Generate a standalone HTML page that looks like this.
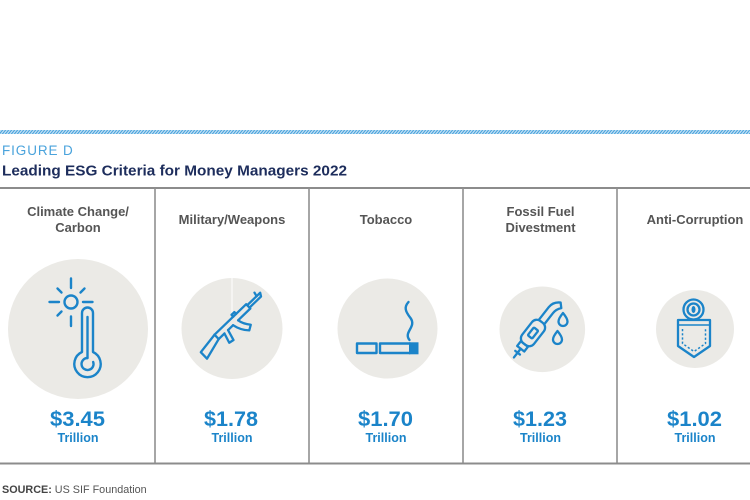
<!DOCTYPE html>
<html>
<head>
<meta charset="utf-8">
<style>
  html,body{margin:0;padding:0;background:#fff;}
  svg{display:block;}
  text{font-family:"Liberation Sans",Arial,sans-serif;}
</style>
</head>
<body>
<svg width="750" height="500" viewBox="0 0 750 500" xmlns="http://www.w3.org/2000/svg">
  <defs>
    <pattern id="hatch" width="3" height="5" patternUnits="userSpaceOnUse" patternTransform="skewX(-40)">
      <rect x="0" y="0" width="3" height="5" fill="#cfe6f6"/>
      <rect x="0" y="0" width="1.6" height="5" fill="#4ea6de"/>
    </pattern>
  </defs>
  <rect x="0" y="0" width="750" height="500" fill="#fff"/>

  <!-- hatched band -->
  <rect x="0" y="130" width="750" height="4" fill="url(#hatch)"/>

  <!-- headings -->
  <text x="2" y="155" font-size="13.5" fill="#4aa3dc" letter-spacing="0.9">FIGURE D</text>
  <text x="2" y="175.5" font-size="14.5" font-weight="bold" fill="#1d2d5c" textLength="345" lengthAdjust="spacingAndGlyphs">Leading ESG Criteria for Money Managers 2022</text>

  <!-- table lines -->
  <rect x="0" y="187" width="750" height="2" fill="#8c8c8c"/>
  <rect x="0" y="462.5" width="750" height="2" fill="#8c8c8c"/>
  <rect x="154.2" y="188" width="1.6" height="275" fill="#909090"/>
  <rect x="308.2" y="188" width="1.6" height="275" fill="#909090"/>
  <rect x="462.2" y="188" width="1.6" height="275" fill="#909090"/>
  <rect x="616.2" y="188" width="1.6" height="275" fill="#909090"/>

  <!-- header labels -->
  <g font-size="13" font-weight="bold" fill="#555" text-anchor="middle">
    <text x="78" y="216">Climate Change/</text>
    <text x="78" y="232">Carbon</text>
    <text x="232" y="224">Military/Weapons</text>
    <text x="386" y="224">Tobacco</text>
    <text x="540.5" y="216">Fossil Fuel</text>
    <text x="540.5" y="232">Divestment</text>
    <text x="695" y="224">Anti-Corruption</text>
  </g>

  <!-- circles -->
  <g fill="#ebeae6">
    <circle cx="78" cy="329" r="70"/>
    <circle cx="232" cy="328.5" r="50.5"/>
    <circle cx="387.5" cy="328.5" r="50"/>
    <circle cx="542.3" cy="329.3" r="42.8"/>
    <circle cx="695" cy="329" r="39"/>
  </g>
  <line x1="232" y1="278" x2="232" y2="314" stroke="#ffffff" stroke-width="1"/>

  <!-- climate icon -->
  <g stroke="#1b84c9" stroke-width="2.4" fill="none" stroke-linecap="round" stroke-linejoin="round">
    <circle cx="71" cy="302" r="6.5"/>
    <line x1="71" y1="278.5" x2="71" y2="288"/>
    <line x1="71" y1="316.5" x2="71" y2="326"/>
    <line x1="49.5" y1="302" x2="59" y2="302"/>
    <line x1="83" y1="302" x2="92.5" y2="302"/>
    <line x1="57.5" y1="288.5" x2="61.5" y2="292.5"/>
    <line x1="84.5" y1="288.5" x2="80.5" y2="292.5"/>
    <line x1="57.5" y1="315.5" x2="61.5" y2="311.5"/>
    <path d="M82,352 L82,313 A5.5,5.5 0 0 1 93,313 L93,352 A13.2,13.2 0 1 1 82,352 Z"/>
    <line x1="87.5" y1="317" x2="87.5" y2="358"/>
    <path d="M87.5,358 A6,6 0 1 0 93.2,362"/>
  </g>

  <!-- rifle icon -->
  <g transform="translate(231,323) rotate(-44)" stroke="#1b84c9" stroke-width="2.3" fill="none" stroke-linejoin="round" stroke-linecap="round">
    <path d="M-20,-3 L-42,0 L-42,9 L-20,3"/>
    <path d="M-20,-3 L24,-3 L24,3 L7,3 M0,3 L-7,3 M-12,3 L-20,3"/>
    <path d="M-12,3 L-15,13 L-10,14 L-7,3"/>
    <path d="M0,3 Q2,12 8,18 L13,15 Q8,9 7,3"/>
    <path d="M24,-1.5 L42,-1.5 M24,1.8 L40,1.8 L42,-1.5"/>
    <path d="M37,-1.5 L38,-5.5"/>
    <path d="M6,-3 L6,-5.5 L10,-5.5 L10,-3"/>
    <line x1="-20" y1="-3" x2="-20" y2="3"/>
  </g>

  <!-- cigarette icon -->
  <g stroke="#1b84c9" stroke-width="2.4" fill="none" stroke-linejoin="round" stroke-linecap="round">
    <rect x="357" y="343.5" width="19.5" height="9.5"/>
    <path d="M410,343.5 L380,343.5 L380,353 L410,353"/>
    <path d="M409.5,340 C403,332 417,327 410.5,318 C405,311 404,307 408.5,302"/>
  </g>
  <rect x="409" y="342.3" width="9.5" height="12" fill="#1b84c9"/>

  <!-- fuel nozzle icon -->
  <g transform="translate(533,333) rotate(-52)" stroke="#1b84c9" stroke-width="2.3" fill="none" stroke-linejoin="round" stroke-linecap="round">
    <rect x="-14" y="-7.5" width="28" height="15" rx="6"/>
    <rect x="-5" y="-2.8" width="10" height="5.6" rx="1"/>
    <rect x="-20" y="-4.5" width="6" height="9"/>
    <line x1="-20" y1="0" x2="-31" y2="0"/>
    <line x1="-25" y1="-3" x2="-25" y2="3"/>
    <path d="M14,-3.5 L30,-3.5 Q37,-3.5 41,3 L37,7 Q33,3.5 28,3.5 L14,3.5"/>
  </g>
  <g fill="none" stroke="#1b84c9" stroke-width="2.3" stroke-linejoin="round">
    <path d="M563,313 C563,313 567.5,318.5 567.5,321.5 A4.5,4.5 0 0 1 558.5,321.5 C558.5,318.5 563,313 563,313 Z"/>
    <path d="M557.5,331 C557.5,331 562,336.5 562,339.5 A4.5,4.5 0 0 1 553,339.5 C553,336.5 557.5,331 557.5,331 Z"/>
  </g>

  <!-- pocket icon -->
  <g stroke="#1b84c9" stroke-width="2.3" fill="none" stroke-linejoin="round">
    <circle cx="693.5" cy="309.5" r="10"/>
    <circle cx="693.5" cy="309.5" r="6"/>
    <ellipse cx="693.5" cy="309.5" rx="2" ry="3.5" fill="#1b84c9" stroke="none"/>
    <path d="M678,320 L710,320 L710,346 L694,357 L678,346 Z" fill="#ebeae6"/>
    <line x1="678" y1="325" x2="710" y2="325" stroke-width="1.5"/>
    <path d="M682.5,329 L682.5,343.5 L694,351.5 L705.5,343.5 L705.5,329" stroke-width="1.5" stroke-dasharray="2.2 2"/>
  </g>

  <!-- values -->
  <g font-weight="bold" fill="#1b84c9" text-anchor="middle">
    <g font-size="21">
      <text x="77.5" y="426" textLength="55" lengthAdjust="spacingAndGlyphs">$3.45</text>
      <text x="231" y="426" textLength="54" lengthAdjust="spacingAndGlyphs">$1.78</text>
      <text x="385.5" y="426" textLength="55" lengthAdjust="spacingAndGlyphs">$1.70</text>
      <text x="540" y="426" textLength="54" lengthAdjust="spacingAndGlyphs">$1.23</text>
      <text x="694.5" y="426" textLength="55" lengthAdjust="spacingAndGlyphs">$1.02</text>
    </g>
    <g font-size="12.5">
      <text x="78" y="442">Trillion</text>
      <text x="232" y="442">Trillion</text>
      <text x="386" y="442">Trillion</text>
      <text x="540.5" y="442">Trillion</text>
      <text x="695" y="442">Trillion</text>
    </g>
  </g>

  <!-- source -->
  <text x="2" y="493" font-size="10.8" fill="#555"><tspan font-weight="bold" fill="#444">SOURCE:</tspan> US SIF Foundation</text>
</svg>
</body>
</html>
